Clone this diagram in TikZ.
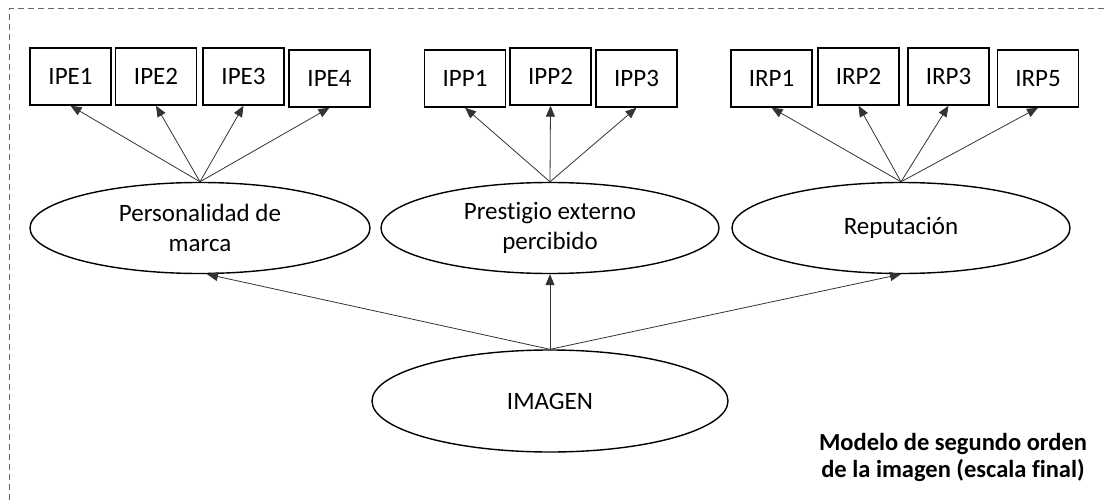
\documentclass[tikz,border=0pt]{standalone}
\usepackage{fontspec}
\setmainfont{Carlito}[Ligatures={NoCommon}]
\usetikzlibrary{arrows.meta,shapes.geometric}
\begin{document}
\begin{tikzpicture}[x=1pt,y=-1pt,
  ind/.style={draw=black,line width=1.4pt,minimum width=81pt,minimum height=57pt,inner sep=0pt,font=\fontsize{25}{30}\selectfont},
  lat/.style={draw=black,line width=1.4pt,ellipse,minimum width=338pt,minimum height=91pt,inner sep=0pt,align=center,font=\fontsize{25}{30}\selectfont},
  arr/.style={draw=black!80,line width=0.8pt,-{Triangle[length=11pt,width=9pt]}},
  frame/.style={draw=black!60,line width=1pt,dash pattern=on 6pt off 4pt}]
\useasboundingbox (0,0) rectangle (1105,500);
\draw[frame] (9,500) -- (9,9) -- (1105,9);
% indicators
\node[ind] (ipe1) at (70.5,76.5) {IPE1};
\node[ind] (ipe2) at (156,76.5) {IPE2};
\node[ind] (ipe3) at (243.5,76.5) {IPE3};
\node[ind] (ipe4) at (329.5,78.5) {IPE4};
\node[ind] (ipp1) at (465,78.5) {IPP1};
\node[ind] (ipp2) at (550.5,76.5) {IPP2};
\node[ind] (ipp3) at (636.5,78.5) {IPP3};
\node[ind] (irp1) at (771.5,78.5) {IRP1};
\node[ind] (irp2) at (858.5,76.5) {IRP2};
\node[ind] (irp3) at (948.5,76.5) {IRP3};
\node[ind] (irp5) at (1038,78.5) {IRP5};
% latent
\node[lat,minimum width=340pt] (pers) at (200,228) {Personalidad de\\marca};
\node[lat] (pres) at (550,228) {Prestigio externo\\percibido};
\node[lat] (rep) at (901,228) {Reputación};
\node[lat,minimum width=356pt,minimum height=102pt] (img) at (550,401) {IMAGEN};
% arrows
\foreach \t in {ipe1,ipe2,ipe3,ipe4} \draw[arr] (pers.north) -- (\t.south);
\foreach \t in {ipp1,ipp2,ipp3} \draw[arr] (pres.north) -- (\t.south);
\foreach \t in {irp1,irp2,irp3,irp5} \draw[arr] (rep.north) -- (\t.south);
\draw[arr] (img.north) -- ([xshift=7pt]pers.south);
\draw[arr] (img.north) -- (pres.south);
\draw[arr] (img.north) -- (rep.south);
\node[align=center,font=\fontsize{24.5}{27}\selectfont\bfseries,inner sep=0pt] (lbl) at (953,457) {Modelo de segundo orden\\de la imagen (escala final)};
\end{tikzpicture}
\end{document}
